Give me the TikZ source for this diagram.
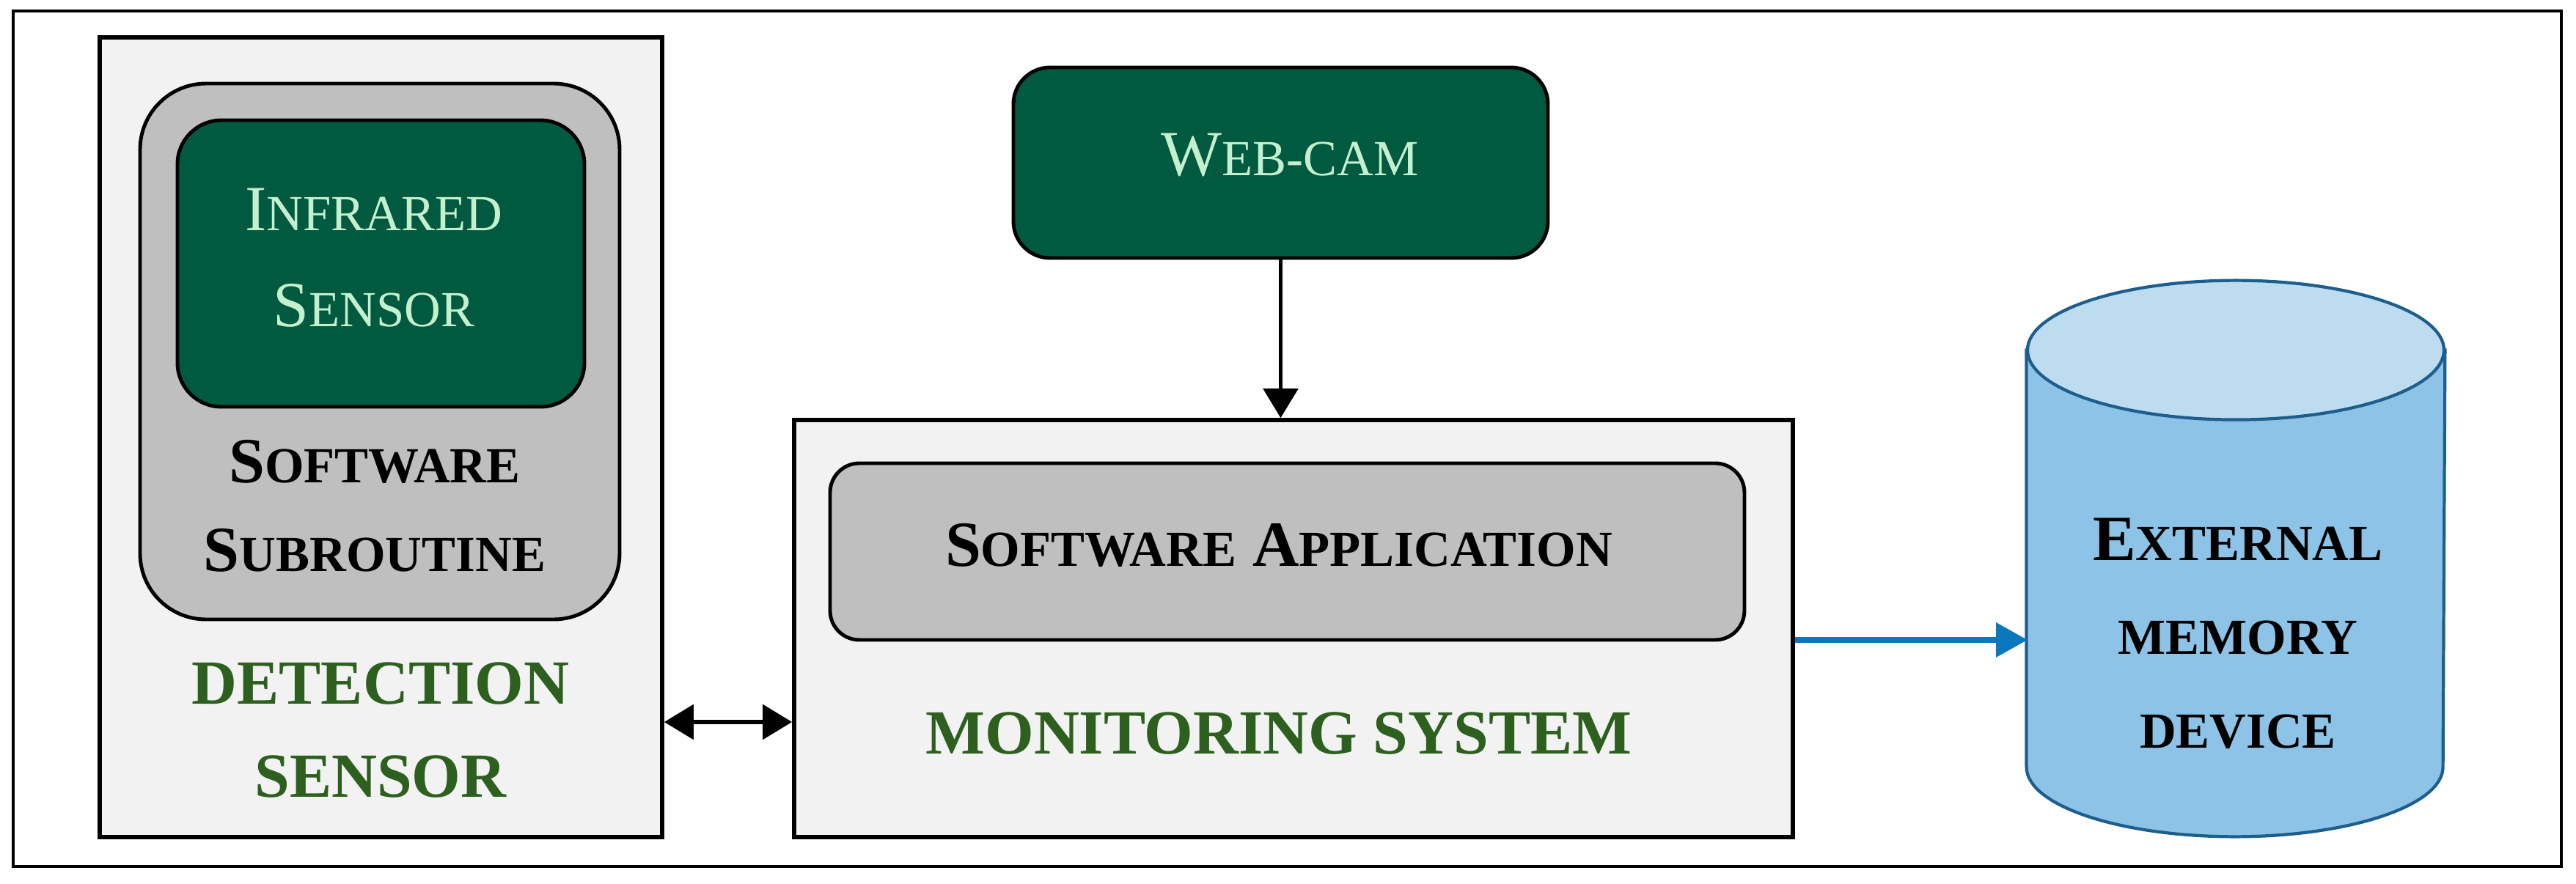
\documentclass[tikz,border=0pt]{standalone}
\usepackage{fontspec}
\setmainfont{Liberation Serif}
\usepackage{xcolor}
\usepackage{tikz}
\usetikzlibrary{arrows.meta}

\definecolor{camgreen}{HTML}{005A40}
\definecolor{mintgreen}{HTML}{C6EFCE}
\definecolor{labelgreen}{HTML}{2D5F1E}
\definecolor{panelgray}{HTML}{F2F2F2}
\definecolor{softgray}{HTML}{BFBFBF}
\definecolor{memfill}{HTML}{8DC3E6}
\definecolor{memtop}{HTML}{BDDCF0}
\definecolor{memline}{HTML}{1D5E8C}
\definecolor{linkblue}{HTML}{0B77BD}

% small capitals made by hand
\newcommand{\lowcaps}[1]{{\fontsize{9.8}{12}\selectfont #1}}
\newcommand{\fakesc}[2]{#1\lowcaps{#2}}

\begin{document}
\begin{tikzpicture}[
    panel/.style={draw, line width=0.8pt, fill=panelgray},
    softbox/.style={draw, line width=0.7pt, fill=softgray},
    hwbox/.style={draw, line width=0.7pt, fill=camgreen},
    hwtext/.style={text=mintgreen, align=center, font=\fontsize{12.5}{18.6}\selectfont},
    softtext/.style={align=center, font=\bfseries\fontsize{12.5}{17.2}\selectfont},
    sysname/.style={text=labelgreen, align=center, font=\bfseries\fontsize{12.2}{18.2}\selectfont},
    memstroke/.style={draw=memline, line width=0.6pt},
    tip/.style={Triangle[length=0.2cm, width=0.235cm]},
    link/.style={line width=0.8pt, -{Triangle[length=0.2cm, width=0.235cm]}},
    bluelink/.style={draw=linkblue, line width=1pt, -{Triangle[length=0.215cm, width=0.23cm]}, linkblue},
]
    \useasboundingbox (0,0) rectangle (17.565,6.025);
    % outer frame
    \draw[line width=0.5pt] (0.09,0.115) rectangle (17.465,5.95);

    % Detection sensor
    \node[panel, minimum width=3.835cm, minimum height=5.455cm] (det) at (2.5975,3.0425) {};
    \node[softbox, rounded corners=0.45cm, minimum width=3.27cm, minimum height=3.655cm] (sub) at (2.59,3.6275) {};
    \node[hwbox, rounded corners=0.3cm, minimum width=2.775cm, minimum height=1.955cm] (ir) at (2.5975,4.2275) {};
    \node[hwtext] (irtext) at (2.55,4.2675) {\fakesc{I}{NFRARED}\\\fakesc{S}{ENSOR}};
    \node[softtext] (subtext) at (2.555,2.5725) {\fakesc{S}{OFTWARE}\\\fakesc{S}{UBROUTINE}};
    \node[sysname] (dettext) at (2.595,1.045) {DETECTION\\SENSOR};

    % Web-cam
    \node[hwbox, rounded corners=0.25cm, minimum width=3.645cm, minimum height=1.3cm] (cam) at (8.7325,4.915) {};
    \node[hwtext] (camtext) at (8.795,4.97) {\fakesc{W}{EB-CAM}};

    % Monitoring system
    \node[panel, minimum width=6.81cm, minimum height=2.845cm] (mon) at (8.82,1.7375) {};
    \node[softbox, rounded corners=0.2cm, minimum width=6.235cm, minimum height=1.205cm] (app) at (8.7775,2.2625) {};
    \node[softtext] (apptext) at (8.72,2.305) {\fakesc{S}{OFTWARE} \fakesc{A}{PPLICATION}};
    \node[sysname] (montext) at (8.72,1.0225) {MONITORING SYSTEM};

    % External memory device
    \node[minimum width=2.84cm, minimum height=3.78cm] (mem) at (15.245,2.215) {};
    \draw[memstroke, fill=memfill] ([yshift=-0.475cm]mem.north west) -- ([yshift=0.475cm]mem.south west)
        arc[start angle=180, end angle=360, x radius=1.42cm, y radius=0.475cm]
        -- ([yshift=-0.475cm]mem.north east) -- cycle;
    \draw[memstroke, fill=memtop] ([yshift=-0.475cm]mem.north) ellipse [x radius=1.42cm, y radius=0.475cm];
    \node[softtext, font=\bfseries\fontsize{12.5}{18.2}\selectfont] (memtext) at (15.26,1.705)
        {\fakesc{E}{XTERNAL}\\\lowcaps{MEMORY}\\\lowcaps{DEVICE}};

    % connectors
    \coordinate (bus) at (5,1.1);
    \coordinate (tap) at (13.825,1.66);
    \draw[link] (cam.south) -- (cam.south |- mon.north);
    \draw[line width=0.8pt, {Triangle[length=0.2cm, width=0.235cm]}-{Triangle[length=0.2cm, width=0.235cm]}] (det.east |- bus) -- (mon.west |- bus);
    \draw[bluelink] (mon.east |- tap) -- (tap);
\end{tikzpicture}
\end{document}
